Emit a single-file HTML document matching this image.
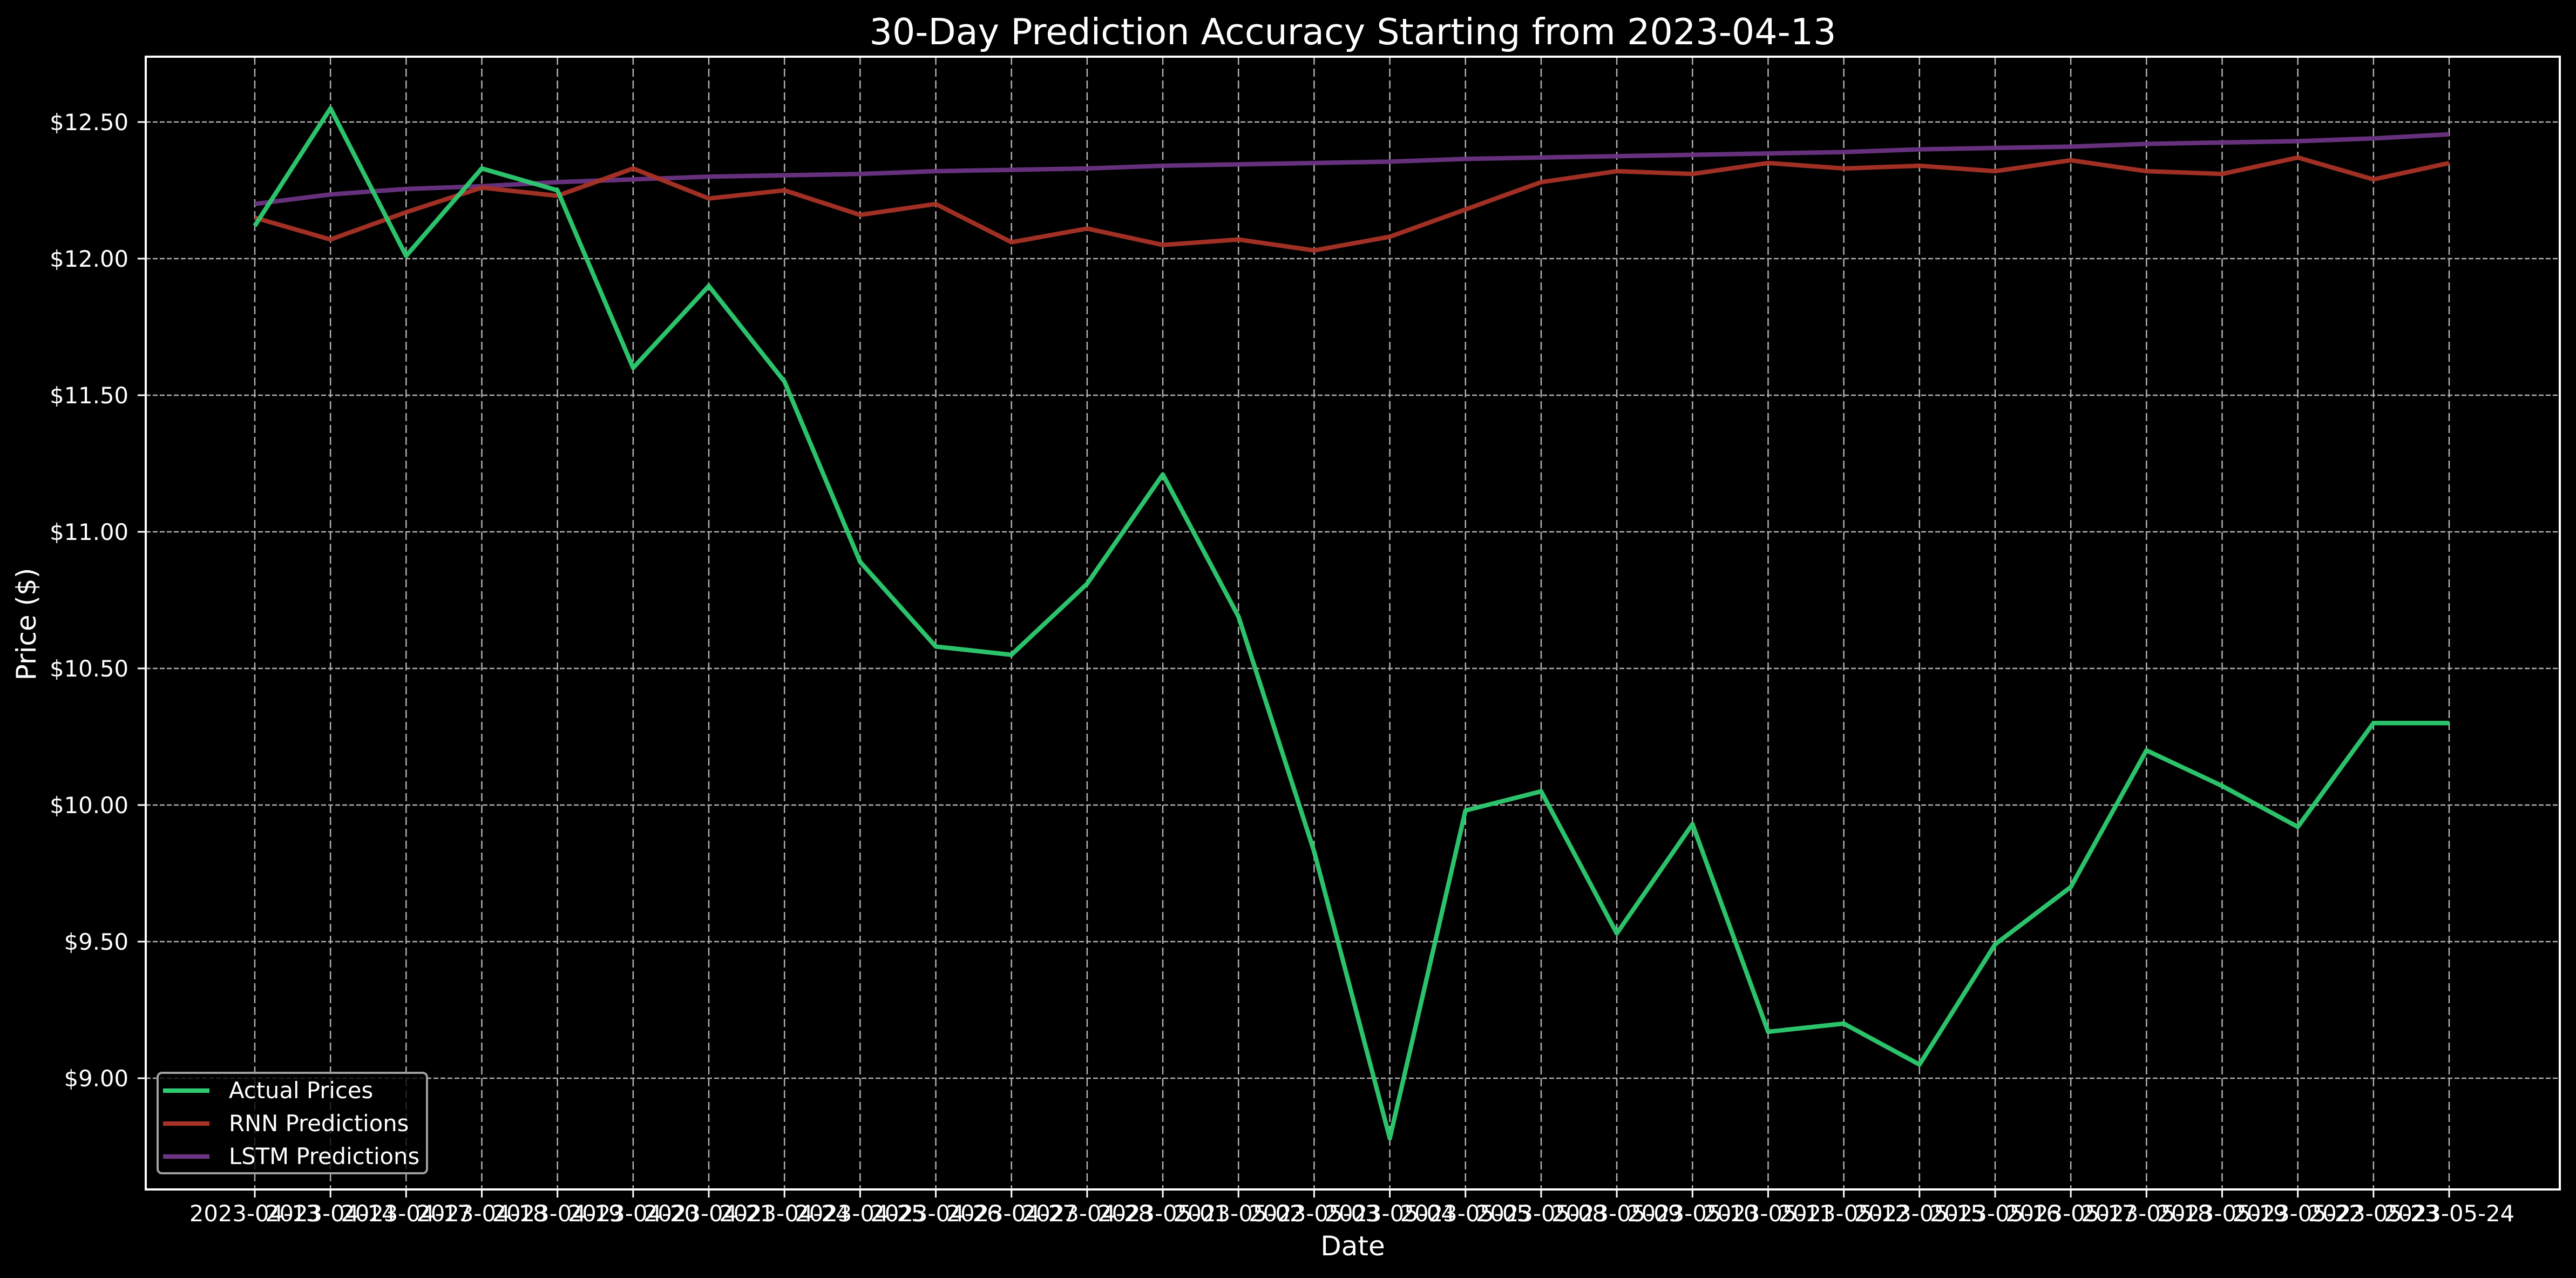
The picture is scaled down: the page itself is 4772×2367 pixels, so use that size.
<!DOCTYPE html>
<html><head><meta charset="utf-8"><style>
html,body{margin:0;padding:0;background:#000;}
svg{display:block;}
text{font-family:"DejaVu Sans","Liberation Sans",sans-serif;fill:#fff;}
</style></head><body>
<svg id="chart" width="4772" height="2367" viewBox="0 0 4772 2367" xmlns="http://www.w3.org/2000/svg">
<rect x="0" y="0" width="4772" height="2367" fill="#000"/>
<text x="2506" y="82" font-size="66.7" text-anchor="middle">30-Day Prediction Accuracy Starting from 2023-04-13</text>
<g id="grid"></g>
<g id="series"></g>
<rect x="270" y="105" width="4472" height="2098" fill="none" stroke="#fff" stroke-width="4"/>
<g id="ticks"></g>
<text x="2506" y="2325" font-size="50" text-anchor="middle">Date</text>
<text x="66" y="1156" font-size="50" text-anchor="middle" transform="rotate(-90 66 1156)">Price ($)</text>
<g>
<rect x="292" y="1987" width="499" height="186" rx="8" fill="#000" fill-opacity="0.8" stroke="#a0a0a0" stroke-width="4"/>
<g>
<line x1="302" y1="2020" x2="388" y2="2020" stroke="#2ecc71" stroke-width="8.3"/>
<text x="424" y="2034" font-size="41.7">Actual Prices</text></g>
<g>
<line x1="302" y1="2081" x2="388" y2="2081" stroke="#a93226" stroke-width="8.3"/>
<text x="424" y="2095" font-size="41.7">RNN Predictions</text></g>
<g>
<line x1="302" y1="2142" x2="388" y2="2142" stroke="#6c3483" stroke-width="8.3"/>
<text x="424" y="2156" font-size="41.7">LSTM Predictions</text></g>
</g>
</svg>
<script>
const dates = ["2023-04-13","2023-04-14","2023-04-17","2023-04-18","2023-04-19","2023-04-20","2023-04-21","2023-04-24","2023-04-25","2023-04-26","2023-04-27","2023-04-28","2023-05-01","2023-05-02","2023-05-03","2023-05-04","2023-05-05","2023-05-08","2023-05-09","2023-05-10","2023-05-11","2023-05-12","2023-05-15","2023-05-16","2023-05-17","2023-05-18","2023-05-19","2023-05-22","2023-05-23","2023-05-24"];
const actual = [12.12,12.55,12.01,12.33,12.25,11.60,11.90,11.55,10.89,10.58,10.55,10.81,11.21,10.69,9.83,8.78,9.98,10.05,9.53,9.93,9.17,9.20,9.05,9.49,9.70,10.20,10.07,9.92,10.30,10.30];
const rnn = [12.15,12.07,12.17,12.26,12.23,12.33,12.22,12.25,12.16,12.20,12.06,12.11,12.05,12.07,12.03,12.08,12.18,12.28,12.32,12.31,12.35,12.33,12.34,12.32,12.36,12.32,12.31,12.37,12.29,12.35];
const lstm = [12.20,12.235,12.255,12.265,12.28,12.29,12.30,12.305,12.31,12.32,12.325,12.33,12.34,12.345,12.35,12.355,12.365,12.37,12.375,12.38,12.385,12.39,12.40,12.405,12.41,12.42,12.425,12.43,12.44,12.455];
const yTicks = [9.00,9.50,10.00,10.50,11.00,11.50,12.00,12.50];

const NS = "http://www.w3.org/2000/svg";
const xPos = i => 472 + i * (4537 - 472) / (dates.length - 1);
const yPos = v => 479 + (12 - v) * 506;
function mk(tag, attrs, parent){const e=document.createElementNS(NS,tag);for(const k in attrs)e.setAttribute(k,attrs[k]);parent.appendChild(e);return e;}
const grid=document.getElementById('grid'), ticks=document.getElementById('ticks'), series=document.getElementById('series');
dates.forEach((d,i)=>{
  const x=xPos(i);
  const g=mk('line',{x1:x,y1:105,x2:x,y2:2203,stroke:'#b0b0b0','stroke-width':2.5,'stroke-dasharray':'15 7'},grid);
  
  
  const t=mk('line',{x1:x,y1:2203,x2:x,y2:2218,stroke:'#fff','stroke-width':3},ticks);
  
  
  const l=mk('text',{x:x,y:2262,'font-size':41.7,'text-anchor':'middle'},ticks);
  l.textContent=d;
  
  
});
yTicks.forEach(v=>{
  const y=yPos(v);
  const g=mk('line',{x1:270,y1:y,x2:4742,y2:y,stroke:'#b0b0b0','stroke-width':2.5,'stroke-dasharray':'9 4'},grid);
  
  
  const t=mk('line',{x1:255,y1:y,x2:270,y2:y,stroke:'#fff','stroke-width':3},ticks);
  
  
  const l=mk('text',{x:238,y:y+15,'font-size':41.7,'text-anchor':'end'},ticks);
  l.textContent='$'+v.toFixed(2);
  
  
});
function drawLine(vals,color,name){
  const p=mk('polyline',{points:vals.map((v,i)=>xPos(i)+','+yPos(v)).join(' '),fill:'none',stroke:color,'stroke-width':8.3,'stroke-linejoin':'round','stroke-opacity':0.95},series);
  
  
}
drawLine(lstm,'#6c3483','lstm-predictions-line');
drawLine(rnn,'#a93226','rnn-predictions-line');
drawLine(actual,'#2ecc71','actual-prices-line');
</script>
</body></html>
